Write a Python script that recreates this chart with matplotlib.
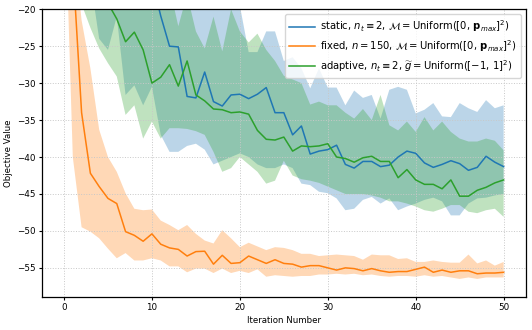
import numpy as np
import matplotlib
matplotlib.use("Agg")
import matplotlib.pyplot as plt

iterations = list(range(51))

static_mean = [-3, -6, -8, -10, -11, -12, -13, -14, -14.5, -15.5, -16, -20.9, -25, -25.1, -31.8, -32, -28.5, -32.5, -33.1, -31.6,
               -31.5, -32.1, -31.5, -30.6, -34, -34, -37, -35.8, -39.6, -39.2, -39, -38.4, -41, -41.5, -40.6, -40.6, -41.3, -41.1,
               -40, -39.2, -39.5, -40.8, -41.4, -41, -40.5, -40.9, -41.8, -41.4, -39.9, -40.7, -41.3]
static_upper = [10, 8, 6, 4, 2, 0, -2, -4, -6, -8, -10, -12, -14, -17, -17, -18, -18, -17, -19, -19,
                -19.5, -25.8, -25.8, -23, -23, -27, -26.5, -28, -30.7, -28, -30.6, -30.6, -33, -31, -32, -31.6, -34.8, -30.9,
                -30.5, -30.9, -34.1, -33.6, -32.7, -34.5, -34.6, -32.7, -33.4, -33.9, -32.3, -33.4, -33.0]
static_lower = [5, 0, -8, -16, -24, -25.5, -21, -31.6, -30.3, -33, -30.5, -37, -39.3, -39.3, -38.5, -38.2, -39, -41, -40.5, -40,
                -39.5, -40, -41, -41.5, -41.5, -41, -41.5, -43.6, -43.8, -44.7, -44.9, -45.6, -47.2, -47.0, -45.8, -45.4, -46.3,
                -45.6, -47.2, -46.7, -46.3, -45.8, -45.5, -46, -47.9, -47.9, -46.3, -45.6, -45.5, -45.2, -45.0]

fixed_mean = [3, -14, -34, -42.2, -44, -45.6, -46.3, -50.1, -50.6, -51.4, -50.4, -51.8, -52.3, -52.5, -53.4, -52.8, -52.75,
              -54.5, -53.3, -54.4, -54.3, -53.4, -53.9, -54.4, -53.9, -54.4, -54.5, -54.9, -54.7, -54.7, -55, -55.3, -55,
              -55.1, -55.4, -55.1, -55.4, -55.6, -55.5, -55.5, -55.2, -54.9, -55.6, -55.3, -55.6, -55.4, -55.4, -55.8,
              -55.7, -55.7, -55.6]
fixed_upper = [8, -10, -21.5, -28, -36.3, -40, -42, -44.9, -47, -47.2, -47.1, -48.6, -49.2, -49.9, -49.2, -50.4, -51.3,
               -51.7, -49.9, -51.0, -52.2, -51.6, -52.1, -52.6, -52.2, -52.3, -52.6, -53.1, -53.1, -53.4, -53.3, -53.2,
               -53.3, -53.4, -53.9, -53.2, -53.3, -53.3, -53.8, -53.7, -54.2, -54.2, -54.0, -54.2, -54.3, -54.3, -53.2,
               -54.4, -54.0, -54.7, -54.2]
fixed_lower = [-1.5, -40, -49.5, -50.1, -51.0, -52.4, -53.7, -53.0, -54.0, -54.0, -53.7, -54.0, -54.8, -54.8, -55.6, -55.1,
               -55.1, -55.7, -55.1, -55.7, -55.4, -55.7, -55.2, -56.2, -56.0, -56.1, -56.2, -56.1, -56.1, -55.9, -55.9,
               -55.8, -55.9, -55.8, -56.0, -55.9, -56.1, -56.2, -56.1, -56.1, -56.2, -56.0, -56.2, -56.1, -56.3, -56.5,
               -56.3, -56.5, -56.3, -56.3, -56.3]

adaptive_mean = [-2, -5, -8, -11, -15, -19.2, -21.3, -24.4, -23.1, -25.5, -30, -29.2, -27.5, -30.4, -27, -31.6, -32.4,
                 -33.5, -33.6, -34, -33.9, -34.2, -36.4, -37.6, -37.7, -37.3, -39.2, -38.5, -38.6, -38.5, -38.2, -40,
                 -40.2, -40.7, -40.1, -39.9, -40.6, -40.6, -42.8, -41.7, -43.1, -43.7, -43.7, -44.3, -43.1, -45.3, -45.3,
                 -44.5, -44.1, -43.5, -43.1]
adaptive_upper = [10, 5, 0, -3, -6, -8, -10, -12, -13, -14, -15, -16, -17, -22.3, -18, -23, -25.3, -21, -25.7, -20,
                  -23, -24.5, -23.3, -25.5, -27, -29, -29.5, -30, -32.9, -32.5, -33, -33, -34, -34.8, -33.5, -35, -31.6,
                  -35.7, -36.4, -35.2, -36.6, -34.6, -36.4, -35.2, -36.6, -37.5, -37.9, -37.9, -37.5, -37.8, -39.1]
adaptive_lower = [5, -5, -19.3, -22.5, -25.3, -27.3, -29.1, -34.3, -33.0, -37.5, -35.2, -37.5, -36.1, -36.1, -36.2, -36.5,
                  -37.0, -39.3, -42.0, -41.5, -40.0, -41.0, -42.0, -43.6, -43.2, -40.5, -42.5, -43.0, -43.2, -43.5, -44.0,
                  -44.5, -45, -45, -45, -45.2, -45.5, -46, -46, -46.3, -46.7, -47.2, -47.4, -47.0, -46.5, -46.5, -47.4,
                  -47.6, -47.2, -47.0, -48.1]

labels = [r"static, $n_t \equiv 2$, $\mathcal{M} = \mathrm{Uniform}([0,\, \mathbf{p}_{max}]^2)$",
          r"fixed, $n = 150$, $\mathcal{M} = \mathrm{Uniform}([0,\, \mathbf{p}_{max}]^2)$",
          r"adaptive, $n_t \equiv 2$, $\widetilde{g} = \mathrm{Uniform}([-1,\, 1]^2)$"]

fig = plt.figure(figsize=(5.32, 3.30), dpi=100)
ax = fig.add_axes([0.079, 0.101, 0.909, 0.871])

x = np.array(iterations)
series = [(static_mean, static_lower, static_upper, "#1f77b4"),
          (fixed_mean, fixed_lower, fixed_upper, "#ff7f0e"),
          (adaptive_mean, adaptive_lower, adaptive_upper, "#2ca02c")]
for (m, lo, hi, c), lab in zip(series, labels):
    ax.plot(x, m, color=c, lw=1.1, label=lab)
    ax.fill_between(x, lo, hi, color=c, alpha=0.3, lw=0)

ax.set_xlim(-2.5, 52.5)
ax.set_ylim(-58.9, -20)
ax.set_xticks([0, 10, 20, 30, 40, 50])
ax.set_yticks([-55, -50, -45, -40, -35, -30, -25, -20])
ax.grid(True, ls=":", color="#c8c8c8", lw=0.7)
ax.tick_params(labelsize=6.3, length=2.5, width=0.8, pad=2)
ax.set_xlabel("Iteration Number", fontsize=6.2, labelpad=3)
ax.set_ylabel("Objective Value", fontsize=6.2, labelpad=3)
for s in ax.spines.values():
    s.set_linewidth(0.9)
ax.legend(loc="upper right", fontsize=7.2, framealpha=0.8, borderaxespad=0.5,
          handlelength=2.6, handletextpad=0.5, labelspacing=0.4)

fig.savefig("out.png", dpi=100)
